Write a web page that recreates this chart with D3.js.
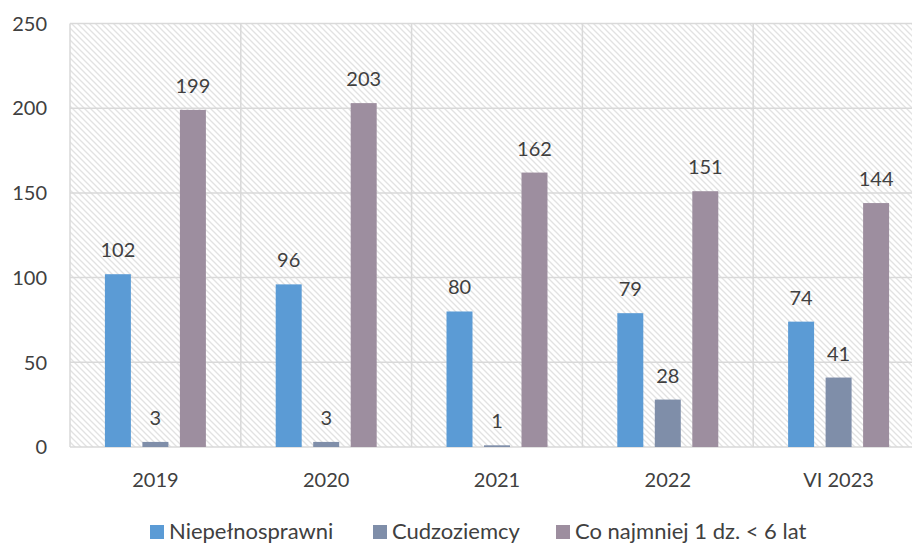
<!DOCTYPE html>
<html><head><meta charset="utf-8">
<script src="https://cdn.jsdelivr.net/npm/d3@7/dist/d3.min.js"></script>
<style>
html,body{margin:0;padding:0;background:#fff;}
svg{display:block;font-family:Lato,"Open Sans",sans-serif;}
</style></head>
<body>
<svg id="chart" width="912" height="543"></svg>
<script>
const categories = ["2019", "2020", "2021", "2022", "VI 2023"];
const seriesNames = ["Niepełnosprawni", "Cudzoziemcy", "Co najmniej 1 dz. < 6 lat"];
const niepelnosprawni = [102, 96, 80, 79, 74];
const cudzoziemcy = [3, 3, 1, 28, 41];
const coNajmniej = [199, 203, 162, 151, 144];
const yTicks = [0, 50, 100, 150, 200, 250];
const colors = ["#5b9bd5", "#7f8ea9", "#9d8e9f"];

const seriesValues = [niepelnosprawni, cudzoziemcy, coNajmniej];

const svg = d3.select("#chart");
const pLeft = 70, pRight = 924, pTop = 23.5, pBottom = 447;

const defs = svg.append("defs");
const pat = defs.append("pattern").attr("id","hatch")
  .attr("patternUnits","userSpaceOnUse").attr("width",6).attr("height",6);
pat.append("rect").attr("width",6).attr("height",6).attr("fill","#fff");
pat.append("path").attr("d","M0,0 L6,6 M-1,5 L1,7 M5,-1 L7,1")
  .attr("stroke","#e2e2e2").attr("stroke-width",1.3);

const x = d3.scaleBand().domain(categories).range([pLeft, pRight]).paddingInner(0).paddingOuter(0);
const xInner = d3.scaleBand().domain(d3.range(3)).range([0, x.bandwidth()]).paddingInner(0.307).paddingOuter(0.931);
const y = d3.scaleLinear().domain([0, 250]).range([pBottom, pTop]);

svg.append("rect").attr("x", pLeft).attr("y", pTop).attr("width", pRight-pLeft).attr("height", pBottom-pTop)
  .attr("fill","url(#hatch)");

// horizontal grid
svg.append("g").selectAll("line").data(yTicks).join("line")
  .attr("x1", pLeft).attr("x2", pRight)
  .attr("y1", d=>y(d)).attr("y2", d=>y(d))
  .attr("stroke","#d9d9d9").attr("stroke-width",1.5);
// vertical grid
svg.append("g").selectAll("line").data(categories).join("line")
  .attr("x1", d=>x(d)).attr("x2", d=>x(d))
  .attr("y1", pTop).attr("y2", pBottom)
  .attr("stroke","#d9d9d9").attr("stroke-width",1.5);

// y axis labels
svg.append("g").selectAll("text").data(yTicks).join("text")
  .attr("x", 47).attr("y", d=>y(d)).attr("dy","0.36em")
  .attr("text-anchor","end").attr("font-size",20).attr("fill","#404040")
  .text(d=>d);

// bars
const g = svg.append("g");
categories.forEach((c, i) => {
  seriesValues.forEach((vals, s) => {
    const v = vals[i];
    const bx = x(c) + xInner(s);
    g.append("rect").attr("x", bx).attr("y", y(v))
      .attr("width", xInner.bandwidth()).attr("height", y(0)-y(v))
      .attr("fill", colors[s]);
    g.append("text").attr("x", bx + xInner.bandwidth()/2).attr("y", y(v) - 17)
      .attr("text-anchor","middle").attr("font-size",20).attr("fill","#404040")
      .text(v);
  });
});

// x labels
svg.append("g").selectAll("text").data(categories).join("text")
  .attr("x", d=>x(d)+x.bandwidth()/2).attr("y", 487)
  .attr("text-anchor","middle").attr("font-size",20).attr("fill","#404040")
  .text(d=>d);

// legend
const legendX = [150, 373, 556];
const lg = svg.append("g");
seriesNames.forEach((n, s) => {
  lg.append("rect").attr("x", legendX[s]).attr("y", 525).attr("width",14).attr("height",14).attr("fill", colors[s]);
  lg.append("text").attr("x", legendX[s]+19).attr("y", 539)
    .attr("font-size",22).attr("fill","#404040").text(n);
});
</script>
</body></html>
